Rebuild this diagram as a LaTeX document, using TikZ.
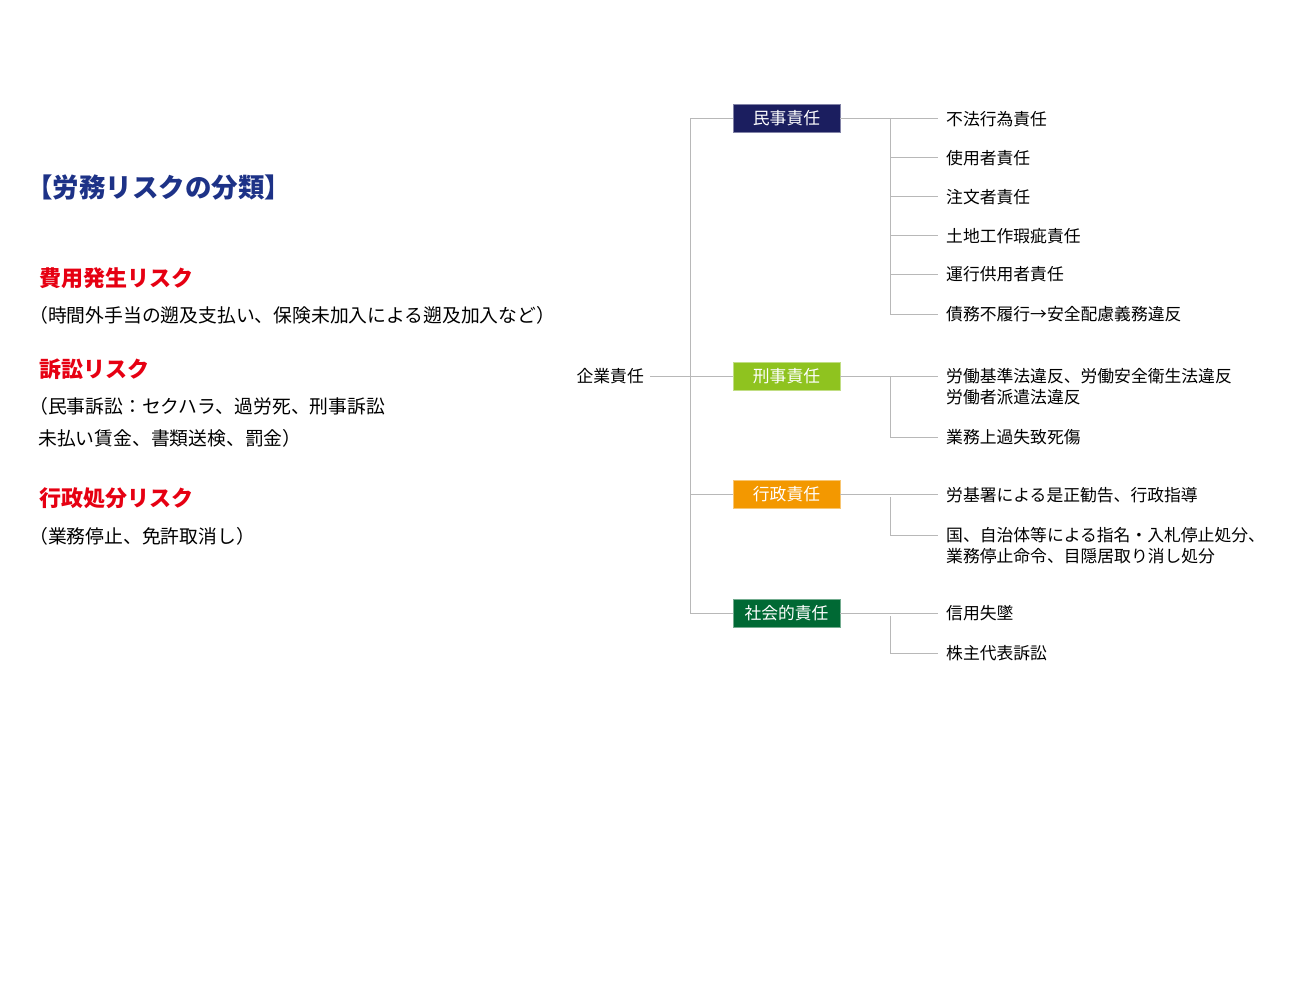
\documentclass[tikz,border=0pt]{standalone}
\usepackage{fontspec}
\setmainfont{Noto Sans CJK JP}
\definecolor{minjicol}{RGB}{27,30,95}
\definecolor{keijicol}{RGB}{143,195,31}
\definecolor{gyoseicol}{RGB}{243,152,0}
\definecolor{shakaicol}{RGB}{0,105,52}
\definecolor{titlecol}{RGB}{29,50,135}
\definecolor{riskcol}{RGB}{230,0,18}
\begin{document}
\begin{tikzpicture}[x=1pt,y=-1pt,
    branch/.style={draw=black!28,line width=1pt},
    head/.style={minimum width=107pt,minimum height=28pt,inner sep=0pt,
      text=white,font=\fontsize{16.8}{20}\selectfont},
    item/.style={anchor=west,inner xsep=8pt,inner ysep=0pt,align=left,
      font=\fontsize{16.8}{21}\selectfont},
    risk/.style={anchor=west,inner sep=0pt,text=riskcol,
      font=\fontsize{22}{26}\selectfont\bfseries},
    note/.style={anchor=west,inner sep=0pt,font=\fontsize{18.8}{22}\selectfont}]
  \useasboundingbox (0,0) rectangle (1300,1000);
  \node[anchor=west,inner sep=0pt,text=titlecol,font=\fontsize{26.5}{30}\selectfont\bfseries]
    (title) at (26,188) {【労務リスクの分類】};
  \node[risk] (hiyo) at (39,278) {費用発生リスク};
  \node[note] (hiyonote) at (29,315) {（時間外手当の遡及支払い、保険未加入による遡及加入など）};
  \node[risk] (sosho) at (39,369) {訴訟リスク};
  \node[note] (soshonote1) at (29,406) {（民事訴訟：セクハラ、過労死、刑事訴訟};
  \node[note] (soshonote2) at (38,438) {未払い賃金、書類送検、罰金）};
  \node[risk] (gyoseirisk) at (39,498) {行政処分リスク};
  \node[note] (gyoseinote) at (29,536) {（業務停止、免許取消し）};

  \node[anchor=east,inner xsep=6pt,inner ysep=0pt,font=\fontsize{16.8}{20}\selectfont]
    (kigyo) at (650,376) {企業責任};
  \node[head,fill=minjicol,draw=minjicol!55!white] (minji) at (786.5,118.5) {民事責任};
  \node[head,fill=keijicol,draw=keijicol!55!white] (keiji) at (786.5,376) {刑事責任};
  \node[head,fill=gyoseicol,draw=gyoseicol!55!white] (gyosei) at (786.5,494) {行政責任};
  \node[head,fill=shakaicol,draw=shakaicol!55!white] (shakai) at (786.5,613) {社会的責任};

  \node[item] (m1) at (938,119) {不法行為責任};
  \node[item] (m2) at (938,158) {使用者責任};
  \node[item] (m3) at (938,197) {注文者責任};
  \node[item] (m4) at (938,236) {土地工作瑕疵責任};
  \node[item] (m5) at (938,274) {運行供用者責任};
  \node[item] (m6) at (938,314) {債務不履行→安全配慮義務違反};
  \node[item] (k1) at (938,386.5) {労働基準法違反、労働安全衛生法違反\\労働者派遣法違反};
  \node[item] (k2) at (938,437) {業務上過失致死傷};
  \node[item] (g1) at (938,495) {労基署による是正勧告、行政指導};
  \node[item] (g2) at (938,545.5) {国、自治体等による指名・入札停止処分、\\業務停止命令、目隠居取り消し処分};
  \node[item] (s1) at (938,613) {信用失墜};
  \node[item] (s2) at (938,653) {株主代表訴訟};

  \coordinate (trunk) at (690,376);
  \coordinate (msplit) at (890,118.5);
  \coordinate (ksplit) at (890,376);
  \coordinate (gsplit) at (890,497);
  \coordinate (ssplit) at (890,616);
  \begin{scope}[branch]
    \draw (kigyo.east) to (keiji.west);
    \draw (minji.west) -| (trunk) |- (shakai.west);
    \draw (trunk) |- (gyosei.west);
    \draw (minji.east) to (minji.east -| m1.west);
    \draw (msplit) |- (m6.west);
    \draw (msplit |- m2.west) to (m2.west);
    \draw (msplit |- m3.west) to (m3.west);
    \draw (msplit |- m4.west) to (m4.west);
    \draw (msplit |- m5.west) to (m5.west);
    \draw (keiji.east) to ([yshift=10.5pt]k1.west);
    \draw (ksplit) |- (k2.west);
    \draw (gyosei.east) to (gyosei.east -| g1.west);
    \draw (gsplit) |- ([yshift=10.5pt]g2.west);
    \draw (shakai.east) to (shakai.east -| s1.west);
    \draw (ssplit) |- (s2.west);
  \end{scope}
\end{tikzpicture}
\end{document}
